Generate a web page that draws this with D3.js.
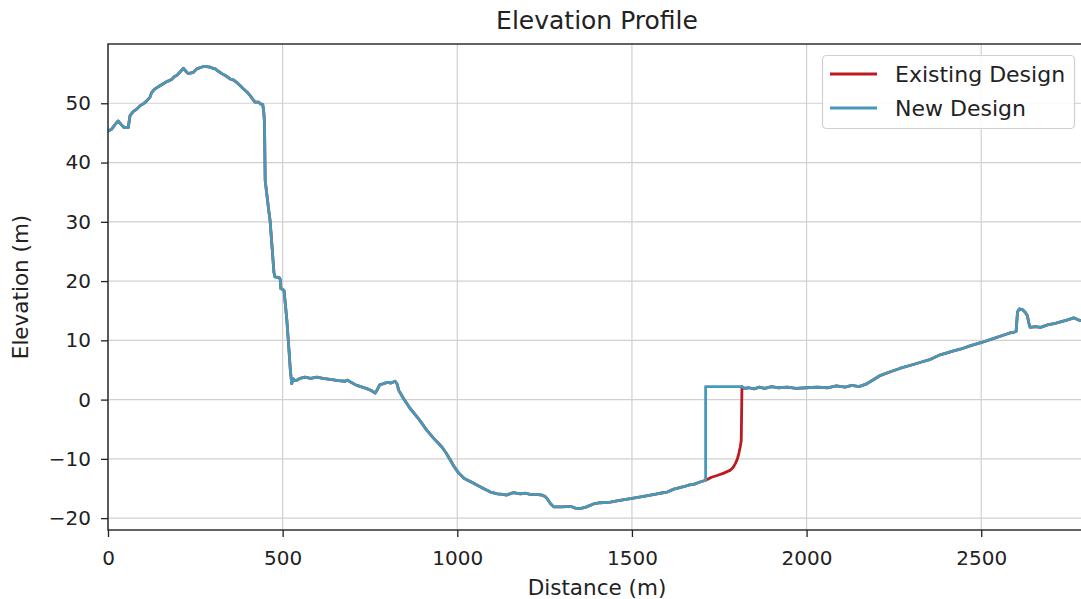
<!DOCTYPE html>
<html>
<head>
<meta charset="utf-8">
<script src="https://cdn.jsdelivr.net/npm/d3@7"></script>
<style>
  html, body { margin: 0; padding: 0; background: #fff; }
  svg { display: block; font-family: "DejaVu Sans", sans-serif; }
</style>
</head>
<body>
<svg id="chart" width="1081" height="599"></svg>
<script>
// ---- data (distance in m, elevation in m) ----
const seriesNames = ["Existing Design", "New Design"];
const xTicks = [0, 500, 1000, 1500, 2000, 2500];
const yTicks = [-20, -10, 0, 10, 20, 30, 40, 50];

// shared profile before the modified section
const leftDist = [0,10,20,29,38,46,58,63,72,82,92,101,111,120,125,132,139,150,158,170,182,190,197,205,216,223,230,244,254,263,273,282,292,300,307,316,326,338,350,360,369,378,388,398,407,414,421,431,436,443,446,448,450,455,460,464,470,475,478,490,493,495,500,504,508,512,518,522,526,531,536,540,550,564,580,598,615,636,660,679,686,693,712,728,741,755,765,772,778,784,800,810,822,828,832,846,865,890,913,935,956,968,980,992,1004,1020,1040,1056,1075,1095,1115,1130,1142,1150,1161,1180,1195,1209,1225,1243,1252,1257,1266,1276,1300,1324,1338,1352,1370,1390,1410,1438,1465,1496,1525,1553,1580,1601,1620,1648,1665,1677,1695,1711];
const leftElev = [45.3,45.6,46.4,47.0,46.4,45.9,45.9,47.9,48.6,49.0,49.6,49.9,50.4,51.0,51.8,52.3,52.6,53.0,53.3,53.7,54.0,54.5,54.7,55.2,55.9,55.4,55.0,55.2,55.8,56.0,56.2,56.2,56.1,55.9,55.8,55.4,55.0,54.6,54.1,53.9,53.5,53.0,52.4,51.9,51.3,50.7,50.2,50.2,49.9,49.8,48.5,46.8,37.0,34.5,32.0,30.2,25.5,21.5,20.7,20.6,20.3,18.7,18.6,18.4,16.0,13.4,8.5,5.0,2.7,3.5,3.2,3.25,3.6,3.8,3.6,3.8,3.6,3.4,3.2,3.1,3.3,3.0,2.4,2.1,1.85,1.5,1.1,1.8,2.5,2.6,2.9,2.8,3.1,2.6,1.6,0.2,-1.5,-3.3,-5.2,-6.7,-8.0,-9.0,-10.2,-11.4,-12.4,-13.3,-13.9,-14.4,-15.0,-15.6,-15.9,-16.0,-16.1,-15.9,-15.7,-15.9,-15.8,-16.0,-16.0,-16.1,-16.4,-16.7,-17.5,-18.1,-18.1,-18.0,-18.3,-18.4,-18.1,-17.6,-17.4,-17.3,-17.0,-16.7,-16.4,-16.1,-15.8,-15.6,-15.1,-14.7,-14.4,-14.3,-13.9,-13.6];

// modified section: existing vs new design
const existingDist = [1711,1728,1744,1763,1782,1790,1796,1802,1806,1810,1813,1815];
const existingElev = [-13.6,-13.1,-12.8,-12.4,-11.9,-11.4,-10.8,-10.0,-9.1,-8.0,-6.9,2.2];
const newDist = [1711,1711,1815];
const newElev = [-13.6,2.2,2.2];

// shared profile after the modified section
const rightDist = [1815,1822,1835,1850,1865,1880,1900,1920,1945,1970,2000,2030,2060,2085,2110,2130,2150,2170,2190,2212,2240,2269,2298,2327,2355,2384,2398,2413,2440,2470,2499,2530,2565,2580,2594,2600,2604,2609,2618,2625,2632,2636,2640,2655,2670,2690,2708,2727,2745,2765,2780,2795];
const rightElev = [2.2,1.9,2.0,1.8,2.1,1.9,2.2,2.0,2.1,1.9,2.0,2.1,2.0,2.3,2.1,2.4,2.2,2.6,3.3,4.1,4.7,5.3,5.8,6.3,6.8,7.6,7.8,8.1,8.5,9.1,9.6,10.2,10.9,11.2,11.4,11.5,14.8,15.3,15.2,14.8,14.2,13.0,12.2,12.3,12.2,12.6,12.8,13.1,13.4,13.8,13.4,13.2];

const colors = ["#bd1a1f", "#4799b8"];

function zip(d, e) { return d.map((v, i) => ({ d: v, e: e[i] })); }
const existingSeries = [...zip(leftDist, leftElev), ...zip(existingDist, existingElev), ...zip(rightDist, rightElev)];
const newSeries = [...zip(leftDist, leftElev), ...zip(newDist, newElev), ...zip(rightDist, rightElev)];

// ---- layout ----
const svg = d3.select("#chart");
const mL = 108, mR = 1086, mT = 44, mB = 530;
const x = d3.scaleLinear().domain([0, 2800]).range([mL, mR]);
const y = d3.scaleLinear().domain([-22, 60]).range([mB, mT]);

svg.append("defs").append("clipPath").attr("id", "clip")
  .append("rect").attr("x", mL).attr("y", mT).attr("width", mR - mL).attr("height", mB - mT);

// grid
const grid = svg.append("g");
grid.selectAll(".vx").data(xTicks).join("line")
  .attr("x1", d => x(d)).attr("x2", d => x(d)).attr("y1", mT).attr("y2", mB)
  .attr("stroke", "#d0d0d0").attr("stroke-width", 1.2);
grid.selectAll(".hy").data(yTicks).join("line")
  .attr("y1", d => y(d)).attr("y2", d => y(d)).attr("x1", mL).attr("x2", mR)
  .attr("stroke", "#d0d0d0").attr("stroke-width", 1.2);

// lines
const line = d3.line().x(p => x(p.d)).y(p => y(p.e));
const plot = svg.append("g").attr("clip-path", "url(#clip)");
[existingSeries, newSeries].forEach((s, i) => {
  plot.append("path").datum(s).attr("d", line)
    .attr("fill", "none").attr("stroke", colors[i]).attr("stroke-width", 2.8)
    .attr("stroke-linejoin", "round").attr("stroke-linecap", "square");
});

// axes
const xAxis = d3.axisBottom(x).tickValues(xTicks).tickSize(7).tickPadding(14).tickFormat(d3.format("d"));
const yAxis = d3.axisLeft(y).tickValues(yTicks).tickSize(7).tickPadding(10)
  .tickFormat(d => d < 0 ? "\u2212" + Math.abs(d) : d);
const gx = svg.append("g").attr("transform", `translate(0,${mB})`).call(xAxis);
const gy = svg.append("g").attr("transform", `translate(${mL},0)`).call(yAxis);
[gx, gy].forEach(g => {
  g.select(".domain").remove();
  g.selectAll(".tick line").attr("stroke", "#222").attr("stroke-width", 1.3);
  g.selectAll(".tick text").attr("fill", "#222").style("font-size", "20px").style("font-family", "DejaVu Sans");
});

// spines
svg.append("rect").attr("x", mL).attr("y", mT).attr("width", mR - mL).attr("height", mB - mT)
  .attr("fill", "none").attr("stroke", "#222").attr("stroke-width", 1.4);

// title and labels
svg.append("text").attr("x", (mL + mR) / 2).attr("y", 29).attr("text-anchor", "middle")
  .style("font-size", "25px").attr("fill", "#222").text("Elevation Profile");
svg.append("text").attr("x", (mL + mR) / 2).attr("y", 595).attr("text-anchor", "middle")
  .style("font-size", "21.5px").attr("fill", "#222").text("Distance (m)");
svg.append("text").attr("transform", `translate(28,${(mT + mB) / 2}) rotate(-90)`).attr("text-anchor", "middle")
  .style("font-size", "21.5px").attr("fill", "#222").text("Elevation (m)");

// legend
const lg = svg.append("g");
lg.append("rect").attr("x", 822.5).attr("y", 55.5).attr("width", 252).attr("height", 73).attr("rx", 4)
  .attr("fill", "#fff").attr("fill-opacity", 0.85).attr("stroke", "#d0d0d0").attr("stroke-width", 1.2);
seriesNames.forEach((n, i) => {
  const yy = 74 + i * 34;
  lg.append("line").attr("x1", 830).attr("x2", 877).attr("y1", yy).attr("y2", yy)
    .attr("stroke", colors[i]).attr("stroke-width", 2.8);
  lg.append("text").attr("x", 895).attr("y", yy).attr("dy", "0.36em")
    .style("font-size", "22px").attr("fill", "#222").text(n);
});
</script>
</body>
</html>
